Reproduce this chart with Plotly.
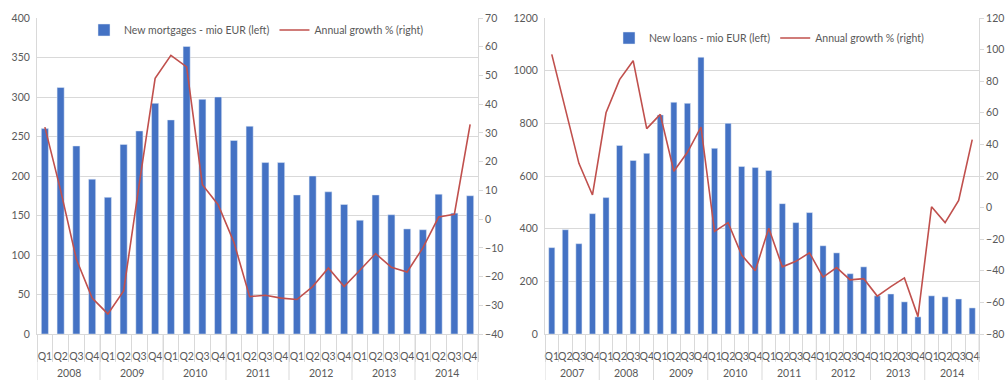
import plotly.graph_objects as go
from plotly.subplots import make_subplots

quarters = ["Q1", "Q2", "Q3", "Q4"]
years_left = ["2008", "2009", "2010", "2011", "2012", "2013", "2014"]
years_right = ["2007", "2008", "2009", "2010", "2011", "2012", "2013", "2014"]

mortgages = [260, 312, 238, 196, 173, 240, 257, 292, 271, 364, 297, 300,
             245, 263, 217, 217, 176, 200, 180, 164, 144, 176, 151, 133,
             132, 177, 153, 175]
mortgage_growth = [32, 10, -14, -27.5, -33, -25, 12.5, 49, 57, 53, 12, 5,
                   -8, -27, -26.5, -27.5, -28, -23.5, -17, -23.5, -17.8, -12, -16.8, -18.4,
                   -10, 0.7, 1.7, 33]

loans = [328, 396, 343, 457, 518, 716, 659, 686, 832, 880, 876, 1051,
         705, 800, 636, 632, 621, 495, 423, 461, 335, 308, 229, 255,
         145, 152, 122, 65, 145, 141, 133, 99]
loan_growth = [97, 63, 28, 8, 60, 81, 93, 50, 59, 23, 35, 51,
               -15, -9.5, -30, -40, -13, -37.5, -34, -28.6, -44, -38, -45.7, -45,
               -56, -50, -44.5, -69, 0.5, -9.5, 4.5, 43]

BLUE = "#4472C4"
RED = "#C0504D"
TXT = "#595959"
GRID = "#D9D9D9"
FONT = "Lato"
FS = 10.5

n_left = len(years_left) * len(quarters)
n_right = len(years_right) * len(quarters)
xl = list(range(n_left))
xr = list(range(n_right))
qlabels_left = [q for _ in years_left for q in quarters]
qlabels_right = [q for _ in years_right for q in quarters]

fig = make_subplots(rows=1, cols=2, specs=[[{"secondary_y": True}, {"secondary_y": True}]])

fig.add_trace(go.Bar(x=xl, y=mortgages, name="New mortgages - mio EUR (left)",
                     marker_color=BLUE, legend="legend"), row=1, col=1, secondary_y=False)
fig.add_trace(go.Scatter(x=xl, y=mortgage_growth, name="Annual growth % (right)", mode="lines",
                         line=dict(color=RED, width=1.6), legend="legend"), row=1, col=1, secondary_y=True)
fig.add_trace(go.Bar(x=xr, y=loans, name="New loans - mio EUR (left)",
                     marker_color=BLUE, legend="legend2"), row=1, col=2, secondary_y=False)
fig.add_trace(go.Scatter(x=xr, y=loan_growth, name="Annual growth % (right)", mode="lines",
                         line=dict(color=RED, width=1.6), legend="legend2"), row=1, col=2, secondary_y=True)

ydom = [46 / 380, 362 / 380]
xdom1 = [37 / 1006, 478 / 1006]
xdom2 = [545 / 1006, 979 / 1006]
tf = dict(size=FS, color=TXT, family=FONT)


def xaxis_cfg(dom, n, labels):
    return dict(domain=dom, range=[-0.5, n - 0.5], tickmode="array", tickvals=list(range(n)),
                ticktext=labels, tickangle=0, ticks="", ticklabelstandoff=12,
                showline=True, linecolor=GRID, linewidth=1, showgrid=False, zeroline=False,
                automargin=False, tickfont=tf,
                minor=dict(tick0=-0.5, dtick=1, ticks="outside", ticklen=27, tickcolor=GRID,
                           tickwidth=1, showgrid=False))


fig.update_layout(
    width=1006, height=380, margin=dict(l=0, r=0, t=0, b=0),
    paper_bgcolor="white", plot_bgcolor="white", bargap=0.55,
    font=dict(family=FONT, size=FS, color=TXT),
    hovermode=False,
    xaxis=xaxis_cfg(xdom1, n_left, qlabels_left),
    xaxis2=xaxis_cfg(xdom2, n_right, qlabels_right),
    yaxis=dict(domain=ydom, range=[0, 400], dtick=50, showgrid=True, gridcolor=GRID, automargin=False,
               showline=True, linecolor=GRID, zeroline=False, tickfont=tf, ticklabelstandoff=4),
    yaxis2=dict(range=[-40, 70], dtick=10, showgrid=False, showline=True, linecolor=GRID, automargin=False,
                ticks="outside", ticklen=4, tickcolor=GRID, zeroline=False, tickfont=tf),
    yaxis3=dict(domain=ydom, range=[0, 1200], dtick=200, showgrid=True, gridcolor=GRID, automargin=False,
                showline=True, linecolor=GRID, zeroline=False, tickfont=tf, ticklabelstandoff=4),
    yaxis4=dict(range=[-80, 120], dtick=20, showgrid=False, showline=True, linecolor=GRID, automargin=False,
                ticks="outside", ticklen=4, tickcolor=GRID, zeroline=False, tickfont=tf),
    legend=dict(orientation="h", x=(84 / 1006), y=(380 - 30) / 380, xanchor="left", yanchor="middle",
                bgcolor="white", font=dict(size=FS, color=TXT, family=FONT), itemwidth=30),
    legend2=dict(orientation="h", x=(609 / 1006), y=(380 - 38) / 380, xanchor="left", yanchor="middle",
                 bgcolor="white", font=dict(size=FS, color=TXT, family=FONT), itemwidth=30),
)

# year labels and year dividers below each category axis
for xref, years in (("x", years_left), ("x2", years_right)):
    nq = len(quarters)
    for k, yr in enumerate(years):
        fig.add_annotation(x=k * nq + (nq - 1) / 2, y=7 / 380, xref=xref, yref="paper", text=yr,
                           showarrow=False, font=tf, yanchor="middle")
    for k in range(len(years) + 1):
        fig.add_shape(type="line", xref=xref, yref="paper", x0=k * nq - 0.5, x1=k * nq - 0.5,
                      y0=0, y1=ydom[0], line=dict(color=GRID, width=1))

fig.write_html("out.html")
